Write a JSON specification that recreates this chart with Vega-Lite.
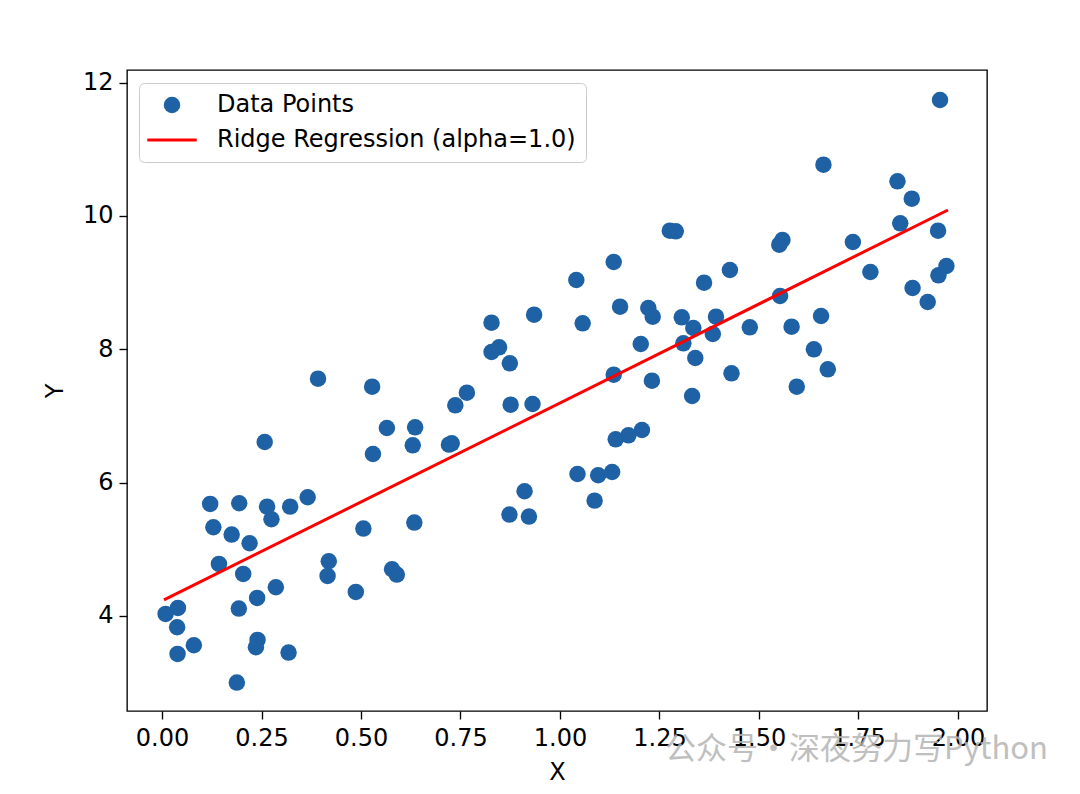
{
  "$schema": "https://vega.github.io/schema/vega-lite/v6.json",
  "width": 860,
  "height": 641,
  "autosize": {"type": "none"},
  "padding": {"left": 127, "top": 70, "right": 93, "bottom": 83},
  "background": "white",
  "config": {
    "font": "DejaVu Sans",
    "view": {"stroke": "black", "strokeWidth": 1.35},
    "axis": {
      "domain": false, "grid": false,
      "tickColor": "black", "tickWidth": 1.35, "tickSize": 8,
      "labelFont": "DejaVu Sans", "labelFontSize": 24, "labelColor": "black", "labelPadding": 7,
      "titleFont": "DejaVu Sans", "titleFontSize": 24, "titleFontWeight": "normal", "titleColor": "black"
    },
    "legend": {
      "orient": "none", "legendX": 12, "legendY": 13,
      "padding": 10, "fillColor": "rgba(255,255,255,0.8)", "strokeColor": "#cccccc", "cornerRadius": 5,
      "labelFont": "DejaVu Sans", "labelFontSize": 24, "labelColor": "black", "labelLimit": 600,
      "symbolSize": 272, "symbolOffset": 11, "labelOffset": 33, "rowPadding": 11
    }
  },
  "datasets": {
    "points": [
      {"x":0.392,"y":7.56},{"x":0.528,"y":7.44},{"x":0.565,"y":6.82},{"x":0.636,"y":6.83},{"x":0.258,"y":6.61},
      {"x":0.530,"y":6.43},{"x":0.630,"y":6.56},{"x":0.121,"y":5.68},{"x":0.194,"y":5.69},{"x":0.264,"y":5.64},
      {"x":0.275,"y":5.45},{"x":0.322,"y":5.64},{"x":0.366,"y":5.78},{"x":0.129,"y":5.33},{"x":0.175,"y":5.22},
      {"x":0.220,"y":5.09},{"x":0.506,"y":5.31},{"x":0.634,"y":5.40},{"x":0.143,"y":4.78},{"x":0.204,"y":4.63},
      {"x":0.419,"y":4.82},{"x":0.416,"y":4.60},{"x":0.578,"y":4.70},{"x":0.590,"y":4.62},{"x":0.286,"y":4.43},
      {"x":0.487,"y":4.36},{"x":0.239,"y":4.27},{"x":0.193,"y":4.11},{"x":0.040,"y":4.12},{"x":0.009,"y":4.03},
      {"x":0.038,"y":3.83},{"x":0.080,"y":3.56},{"x":0.039,"y":3.43},{"x":0.240,"y":3.64},{"x":0.236,"y":3.53},
      {"x":0.318,"y":3.45},{"x":0.188,"y":3.00},
      {"x":1.276,"y":9.78},{"x":1.291,"y":9.77},{"x":1.135,"y":9.31},{"x":1.041,"y":9.04},{"x":1.427,"y":9.19},
      {"x":1.362,"y":9.00},{"x":0.935,"y":8.52},{"x":1.151,"y":8.64},{"x":1.222,"y":8.62},{"x":1.233,"y":8.49},
      {"x":0.828,"y":8.40},{"x":1.057,"y":8.39},{"x":1.306,"y":8.48},{"x":1.392,"y":8.49},{"x":1.335,"y":8.32},
      {"x":1.384,"y":8.23},{"x":1.477,"y":8.33},{"x":0.828,"y":7.96},{"x":0.847,"y":8.03},{"x":1.203,"y":8.08},
      {"x":1.310,"y":8.09},{"x":0.874,"y":7.79},{"x":1.340,"y":7.87},{"x":0.766,"y":7.35},{"x":0.737,"y":7.16},
      {"x":0.876,"y":7.17},{"x":0.931,"y":7.18},{"x":1.135,"y":7.62},{"x":1.231,"y":7.53},{"x":1.431,"y":7.64},
      {"x":1.332,"y":7.30},{"x":0.721,"y":6.57},{"x":0.728,"y":6.59},{"x":1.206,"y":6.79},{"x":1.172,"y":6.71},
      {"x":1.140,"y":6.65},{"x":1.044,"y":6.13},{"x":1.096,"y":6.11},{"x":1.131,"y":6.16},{"x":0.911,"y":5.87},
      {"x":0.873,"y":5.52},{"x":0.922,"y":5.49},{"x":1.087,"y":5.73},
      {"x":1.955,"y":11.74},{"x":1.662,"y":10.77},{"x":1.848,"y":10.52},{"x":1.884,"y":10.26},{"x":1.855,"y":9.89},
      {"x":1.950,"y":9.78},{"x":1.736,"y":9.61},{"x":1.551,"y":9.57},{"x":1.559,"y":9.64},{"x":1.971,"y":9.25},
      {"x":1.951,"y":9.11},{"x":1.780,"y":9.16},{"x":1.886,"y":8.92},{"x":1.924,"y":8.71},{"x":1.553,"y":8.80},
      {"x":1.656,"y":8.50},{"x":1.582,"y":8.34},{"x":1.638,"y":8.00},{"x":1.673,"y":7.70},{"x":1.595,"y":7.44}
    ],
    "line": [
      {"x":0.005,"y":4.24},{"x":1.975,"y":10.09}
    ],
    "wm": [
      {"x":1.264,"y":1.99,"t":"公众号·深夜努力写Python"}
    ]
  },
  "layer": [
    {
      "data": {"name": "points"},
      "mark": {"type": "circle", "size": 272, "opacity": 1},
      "encoding": {
        "x": {"field": "x", "type": "quantitative",
              "scale": {"domain": [-0.088, 2.073], "nice": false, "zero": false},
              "axis": {"values": [0, 0.25, 0.5, 0.75, 1, 1.25, 1.5, 1.75, 2], "format": ".2f", "title": "X", "titlePadding": 10}},
        "y": {"field": "y", "type": "quantitative",
              "scale": {"domain": [2.574, 12.19], "nice": false, "zero": false},
              "axis": {"values": [4, 6, 8, 10, 12], "format": "d", "title": "Y", "titlePadding": 15, "labelPadding": 6}},
        "color": {
          "datum": "Data Points", "type": "nominal",
          "scale": {"domain": ["Data Points", "Ridge Regression (alpha=1.0)"], "range": ["#1e62a5", "#ff0000"]},
          "legend": {
            "title": null,
            "symbolType": {"expr": "datum.value === 'Data Points' ? 'circle' : 'M-3,0H3'"},
            "symbolFillColor": {"expr": "datum.value === 'Data Points' ? '#1e62a5' : 'transparent'"},
            "symbolStrokeColor": {"expr": "datum.value === 'Data Points' ? '#1e62a5' : '#ff0000'"},
            "symbolStrokeWidth": {"expr": "datum.value === 'Data Points' ? 0 : 3"}
          }
        }
      }
    },
    {
      "data": {"name": "line"},
      "mark": {"type": "line", "strokeWidth": 3},
      "encoding": {
        "x": {"field": "x", "type": "quantitative"},
        "y": {"field": "y", "type": "quantitative"},
        "color": {"datum": "Ridge Regression (alpha=1.0)", "type": "nominal"}
      }
    },
    {
      "data": {"name": "wm"},
      "mark": {"type": "text", "align": "left", "baseline": "middle", "font": "Noto Sans CJK SC", "fontSize": 31, "color": "#b4b4b4", "opacity": 0.85},
      "encoding": {
        "x": {"field": "x", "type": "quantitative"},
        "y": {"field": "y", "type": "quantitative"},
        "text": {"field": "t"}
      }
    }
  ]
}
